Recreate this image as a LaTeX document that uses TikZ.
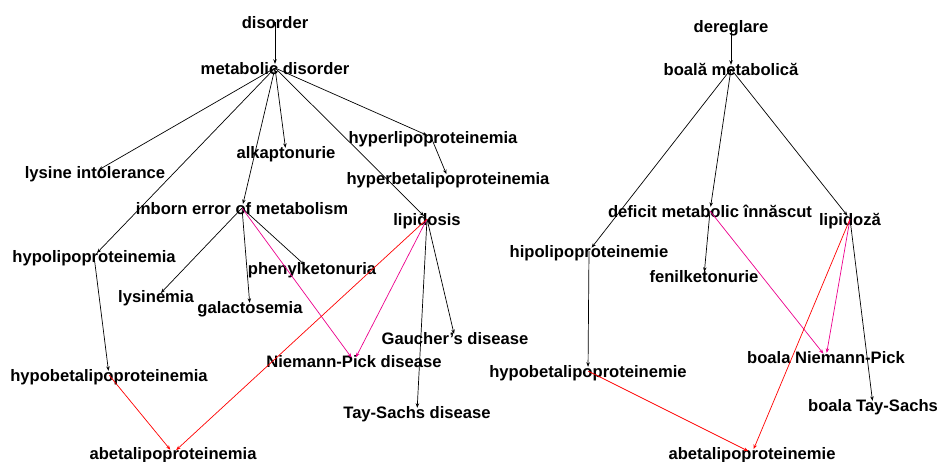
\documentclass[tikz,border=0pt]{standalone}
\usepackage{fontspec}
\setmainfont{Liberation Sans}
\usetikzlibrary{arrows.meta}

\begin{document}
\begin{tikzpicture}[
  x=1pt, y=-1pt,
  every node/.style={font=\fontsize{16.6}{19}\selectfont\bfseries},
  pt/.style={inner sep=0pt, minimum size=0pt},
  lab/.style={inner sep=0pt, text height=12pt, text depth=4pt, yshift=-2.5pt},
  arr/.style={-{Stealth[length=4.5pt,width=3.5pt]}, line width=0.7pt, black, shorten >=4pt},
  rarr/.style={arr, red},
  marr/.style={arr, magenta}
]
  \useasboundingbox (0,0) rectangle (937,462);

  % English hierarchy
  \node[pt, label={[lab]center:disorder}] (dis) at (275,22) {};
  \node[pt, label={[lab]center:metabolic disorder}] (md) at (275,68) {};
  \node[pt, label={[lab]center:lysine intolerance}] (lysint) at (95,172) {};
  \node[pt, label={[lab]center:alkaptonurie}] (alk) at (286,152) {};
  \node[pt, label={[lab, xshift=2pt]center:hyperlipoproteinemia}] (hyperlip) at (431,137) {};
  \node[pt, label={[lab]center:hyperbetalipoproteinemia}] (hyperbeta) at (448,178) {};
  \node[pt, label={[lab]center:inborn error of metabolism}] (inborn) at (242,208) {};
  \node[pt, label={[lab]center:lipidosis}] (lipid) at (427,219) {};
  \node[pt, label={[lab]center:hypolipoproteinemia}] (hypolip) at (94,256) {};
  \node[pt, label={[lab, xshift=-2pt]center:lysinemia}] (lysin) at (158,296) {};
  \node[pt, label={[lab]center:galactosemia}] (galac) at (250,307) {};
  \node[pt, label={[lab, xshift=4pt]center:phenylketonuria}] (phenyl) at (308,268) {};
  \node[pt, label={[lab]center:Niemann-Pick disease}] (np) at (354,361) {};
  \node[pt, label={[lab]center:Gaucher's disease}] (gauch) at (455,338) {};
  \node[pt, label={[lab]center:Tay-Sachs disease}] (tays) at (417,412) {};
  \node[pt, label={[lab]center:hypobetalipoproteinemia}] (hypobeta) at (109,375) {};
  \node[pt, label={[lab]center:abetalipoproteinemia}] (abeta) at (173,453) {};

  \draw[arr] (dis) -- (md);
  \draw[arr] (md) -- (lysint);
  \draw[arr] (md) -- (hypolip);
  \draw[arr] (md) -- (inborn);
  \draw[arr] (md) -- (alk);
  \draw[arr] (md) -- (lipid);
  \draw[arr] (md) -- (hyperlip);
  \draw[arr] (hyperlip) -- (hyperbeta);
  \draw[arr] (inborn) -- (lysin);
  \draw[arr] (inborn) -- (galac);
  \draw[arr] (inborn) -- (phenyl);
  \draw[arr] (lipid) -- (gauch);
  \draw[arr] (lipid) -- (tays);
  \draw[arr] (hypolip) -- (hypobeta);
  \draw[marr] (inborn) -- (np);
  \draw[marr] (lipid) -- (np);
  \draw[rarr] (lipid) -- (abeta);
  \draw[rarr] (hypobeta) -- (abeta);

  % Romanian hierarchy
  \node[pt, label={[lab]center:dereglare}] (dereg) at (731,26) {};
  \node[pt, label={[lab]center:boală metabolică}] (bmet) at (731,69) {};
  \node[pt, label={[lab]center:deficit metabolic înnăscut}] (defmet) at (710,211) {};
  \node[pt, label={[lab]center:lipidoză}] (lipidoza) at (850,219) {};
  \node[pt, label={[lab]center:hipolipoproteinemie}] (hipolip) at (589,251) {};
  \node[pt, label={[lab]center:fenilketonurie}] (fenil) at (704,276) {};
  \node[pt, label={[lab]center:boala Niemann-Pick}] (bnp) at (826,357) {};
  \node[pt, label={[lab]center:boala Tay-Sachs}] (btays) at (873,405) {};
  \node[pt, label={[lab]center:hypobetalipoproteinemie}] (hypobetaro) at (588,371) {};
  \node[pt, label={[lab]center:abetalipoproteinemie}] (abetaro) at (752,453) {};

  \draw[arr] (dereg) -- (bmet);
  \draw[arr] (bmet) -- (hipolip);
  \draw[arr] (bmet) -- (defmet);
  \draw[arr] (bmet) -- (lipidoza);
  \draw[arr] (defmet) -- (fenil);
  \draw[arr] (lipidoza) -- (btays);
  \draw[arr] (hipolip) -- (hypobetaro);
  \draw[marr] (defmet) -- (bnp);
  \draw[marr] (lipidoza) -- (bnp);
  \draw[rarr] (lipidoza) -- (abetaro);
  \draw[rarr] (hypobetaro) -- (abetaro);
\end{tikzpicture}
\end{document}
